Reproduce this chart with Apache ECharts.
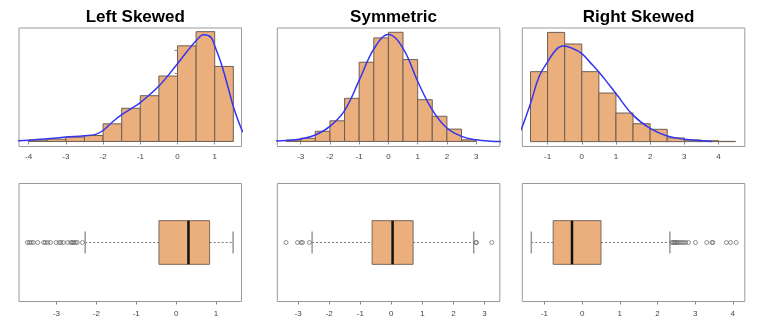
<!DOCTYPE html>
<html><head><meta charset="utf-8">
<script src="https://cdn.jsdelivr.net/npm/echarts@6/dist/echarts.min.js"></script>
<style>html,body{margin:0;padding:0;background:#fff}#c{width:766px;height:331px}</style>
</head><body><div id="c"></div>
<script>
// ---- Data ----
const titles = ["Left Skewed", "Symmetric", "Right Skewed"];
const xTicks1 = [-4, -3, -2, -1, 0, 1];
const xTicks2 = [-3, -2, -1, 0, 1, 2, 3];
const xTicks3 = [-1, 0, 1, 2, 3, 4];
const boxTicks1 = [-3, -2, -1, 0, 1];
const boxTicks2 = [-3, -2, -1, 0, 1, 2, 3];
const boxTicks3 = [-1, 0, 1, 2, 3, 4];
const yTicks = [0, 0.1, 0.2, 0.3, 0.4];

// histogram bins (start of each 0.5-wide bin) and densities
const binStart1 = [-4, -3.5, -3, -2.5, -2, -1.5, -1, -0.5, 0, 0.5, 1];
const density1 = [0.006, 0.010, 0.019, 0.026, 0.077, 0.145, 0.200, 0.286, 0.418, 0.480, 0.328];
const binStart2 = [-3.5, -3, -2.5, -2, -1.5, -1, -0.5, 0, 0.5, 1, 1.5, 2, 2.5];
const density2 = [0.005, 0.012, 0.038, 0.077, 0.161, 0.296, 0.387, 0.408, 0.306, 0.156, 0.094, 0.046, 0.006];
const binStart3 = [-1.5, -1, -0.5, 0, 0.5, 1, 1.5, 2, 2.5, 3, 3.5, 4];
const density3 = [0.301, 0.470, 0.420, 0.301, 0.209, 0.123, 0.077, 0.053, 0.016, 0.007, 0.004, 0.001];

// kernel density curves (x, y)
const curveX1 = [-4.3, -4, -3.5, -3, -2.5, -2.2, -2, -1.75, -1.5, -1.25, -1, -0.5, 0, 0.25, 0.5, 0.7, 0.9, 1, 1.2, 1.4, 1.5, 1.72, 1.8];
const curveY1 = [0.003, 0.005, 0.012, 0.019, 0.025, 0.031, 0.048, 0.085, 0.117, 0.143, 0.170, 0.242, 0.340, 0.392, 0.440, 0.466, 0.455, 0.418, 0.328, 0.212, 0.153, 0.054, 0.035];
const curveX2 = [-3.9, -3.5, -3, -2.5, -2, -1.5, -1, -0.5, 0, 0.5, 1, 1.5, 2, 2.5, 3, 3.5, 3.9];
const curveY2 = [0.001, 0.003, 0.009, 0.024, 0.056, 0.115, 0.228, 0.345, 0.400, 0.348, 0.225, 0.118, 0.050, 0.019, 0.006, 0.001, 0.000];
const curveX3 = [-1.8, -1.74, -1.5, -1.25, -1, -0.75, -0.55, -0.25, 0, 0.25, 0.5, 0.75, 1, 1.5, 2, 2.5, 3, 3.5, 3.8];
const curveY3 = [0.045, 0.064, 0.164, 0.279, 0.343, 0.396, 0.411, 0.400, 0.379, 0.340, 0.300, 0.254, 0.207, 0.114, 0.057, 0.024, 0.010, 0.004, 0.001];

// boxplot stats: [lower whisker, Q1, median, Q3, upper whisker]
const box1 = [-2.28, -0.43, 0.31, 0.84, 1.43];
const box2 = [-2.55, -0.62, 0.04, 0.70, 2.65];
const box3 = [-1.35, -0.77, -0.27, 0.50, 2.33];
const outliers1 = [-3.73, -3.68, -3.63, -3.58, -3.47, -3.32, -3.28, -3.22, -3.15, -3.01, -2.93, -2.89, -2.83, -2.72, -2.64, -2.60, -2.57, -2.52, -2.48, -2.35];
const outliers2 = [-3.39, -3.02, -2.90, -2.86, -2.64, 2.72, 2.74, 3.23];
const outliers3 = [2.38, 2.42, 2.45, 2.48, 2.52, 2.55, 2.60, 2.65, 2.70, 2.75, 2.82, 3.01, 3.31, 3.45, 3.47, 3.83, 3.94, 4.09];

// axis ranges
const histX = [[-4.26, 1.72], [-3.80, 3.81], [-1.74, 4.77]];
const histY = [[-0.022, 0.496], [-0.019, 0.424], [-0.021, 0.489]];
const boxX = [[-3.94, 1.64], [-3.67, 3.49], [-1.59, 4.32]];

// ---- Chart ----
const FILL = '#ebae7d', EDGE = '#6e5e52', FRAME = '#9a9a9a';
const lefts = [19, 277.3, 522.3];
const W = 222.5;
const histTicks = [xTicks1, xTicks2, xTicks3];
const boxTicksAll = [boxTicks1, boxTicks2, boxTicks3];
const bins = [binStart1, binStart2, binStart3];
const dens = [density1, density2, density3];
const cx = [curveX1, curveX2, curveX3];
const cy = [curveY1, curveY2, curveY3];
const boxes = [box1, box2, box3];
const outs = [outliers1, outliers2, outliers3];

const grid = [], xAxis = [], yAxis = [], series = [], title = [];
const fmt = v => String(v);

for (let i = 0; i < 3; i++) {
  title.push({text: titles[i], left: lefts[i] + W / 2, top: 4, textAlign: 'center',
    textStyle: {fontFamily: 'Liberation Sans, Arial, sans-serif', fontSize: 17, fontWeight: 'bold', color: '#000'}});
  // histogram grid
  grid.push({left: lefts[i], top: 28, width: W, height: 118.5, show: true, borderColor: FRAME, borderWidth: 1, backgroundColor: 'transparent'});
  // boxplot grid
  grid.push({left: lefts[i], top: 183.5, width: W, height: 118, show: true, borderColor: FRAME, borderWidth: 1, backgroundColor: 'transparent'});
  const gh = 2 * i, gb = 2 * i + 1;
  const xa = (g, rng, ticks, margin) => ({
    type: 'value', gridIndex: g, min: rng[0], max: rng[1],
    axisLine: {show: false}, splitLine: {show: false},
    axisTick: {show: true, length: 3, lineStyle: {color: '#888'}, customValues: ticks},
    axisLabel: {show: true, customValues: ticks, formatter: fmt, fontSize: 8, color: '#444', margin: margin, fontFamily: 'Liberation Sans, Arial, sans-serif'}
  });
  xAxis.push(xa(gh, histX[i], histTicks[i], 6));
  xAxis.push(xa(gb, boxX[i], boxTicksAll[i], 8));
  yAxis.push({type: 'value', gridIndex: gh, min: histY[i][0], max: histY[i][1],
    axisLine: {show: false}, splitLine: {show: false},
    axisTick: {show: true, length: 3, lineStyle: {color: '#888'}, customValues: yTicks},
    axisLabel: {show: false}});
  yAxis.push({type: 'value', gridIndex: gb, min: 0.46, max: 1.54,
    axisLine: {show: false}, splitLine: {show: false}, axisTick: {show: false}, axisLabel: {show: false}});

  const xi = 2 * i, xb = 2 * i + 1;
  // histogram bars
  series.push({
    type: 'custom', xAxisIndex: xi, yAxisIndex: xi, clip: true,
    data: bins[i].map((s, k) => [s, s + 0.5, dens[i][k]]),
    encode: {x: [0, 1], y: 2},
    renderItem: (params, api) => {
      const p0 = api.coord([api.value(0), api.value(2)]);
      const p1 = api.coord([api.value(1), 0]);
      return {type: 'rect', shape: {x: p0[0], y: p0[1], width: p1[0] - p0[0], height: p1[1] - p0[1]},
        style: {fill: FILL, stroke: EDGE, lineWidth: 1}};
    }
  });
  // density curve
  series.push({
    type: 'line', xAxisIndex: xi, yAxisIndex: xi, smooth: 0.4, showSymbol: false, clip: true,
    data: cx[i].map((x, k) => [x, cy[i][k]]),
    lineStyle: {color: '#3535f0', width: 1.5}, z: 5
  });
  // boxplot
  series.push({
    type: 'custom', xAxisIndex: xb, yAxisIndex: xb, clip: true,
    data: [boxes[i]],
    encode: {x: [0, 1, 2, 3, 4]},
    renderItem: (params, api) => {
      const lo = api.value(0), q1 = api.value(1), md = api.value(2), q3 = api.value(3), hi = api.value(4);
      const a = api.coord([q1, 1.2]), b = api.coord([q3, 0.8]);
      const m0 = api.coord([md, 1.2]), m1 = api.coord([md, 0.8]);
      const w0 = api.coord([lo, 1]), w1 = api.coord([hi, 1]);
      const c0 = api.coord([lo, 1.1]), c1 = api.coord([lo, 0.9]);
      const d0 = api.coord([hi, 1.1]), d1 = api.coord([hi, 0.9]);
      const dash = {stroke: '#777', lineWidth: 1, lineDash: [2, 2]};
      const cap = {stroke: '#999', lineWidth: 1.5};
      return {type: 'group', children: [
        {type: 'line', shape: {x1: w0[0], y1: w0[1], x2: a[0], y2: w0[1]}, style: dash},
        {type: 'line', shape: {x1: b[0], y1: w1[1], x2: w1[0], y2: w1[1]}, style: dash},
        {type: 'line', shape: {x1: c0[0], y1: c0[1], x2: c1[0], y2: c1[1]}, style: cap},
        {type: 'line', shape: {x1: d0[0], y1: d0[1], x2: d1[0], y2: d1[1]}, style: cap},
        {type: 'rect', shape: {x: a[0], y: a[1], width: b[0] - a[0], height: b[1] - a[1]}, style: {fill: FILL, stroke: '#7a6a5e', lineWidth: 1}},
        {type: 'line', shape: {x1: m0[0], y1: m0[1], x2: m1[0], y2: m1[1]}, style: {stroke: '#111', lineWidth: 2.5}}
      ]};
    }
  });
  // outliers
  series.push({
    type: 'scatter', xAxisIndex: xb, yAxisIndex: xb, symbol: 'circle', symbolSize: 4,
    data: outs[i].map(v => [v, 1]),
    itemStyle: {color: 'rgba(255,255,255,0)', borderColor: '#555', borderWidth: 0.8}, z: 6
  });
}

const chart = echarts.init(document.getElementById('c'), null, {renderer: 'canvas'});
chart.setOption({animation: false, backgroundColor: '#fff', title, grid, xAxis, yAxis, series});
</script>
</body></html>
